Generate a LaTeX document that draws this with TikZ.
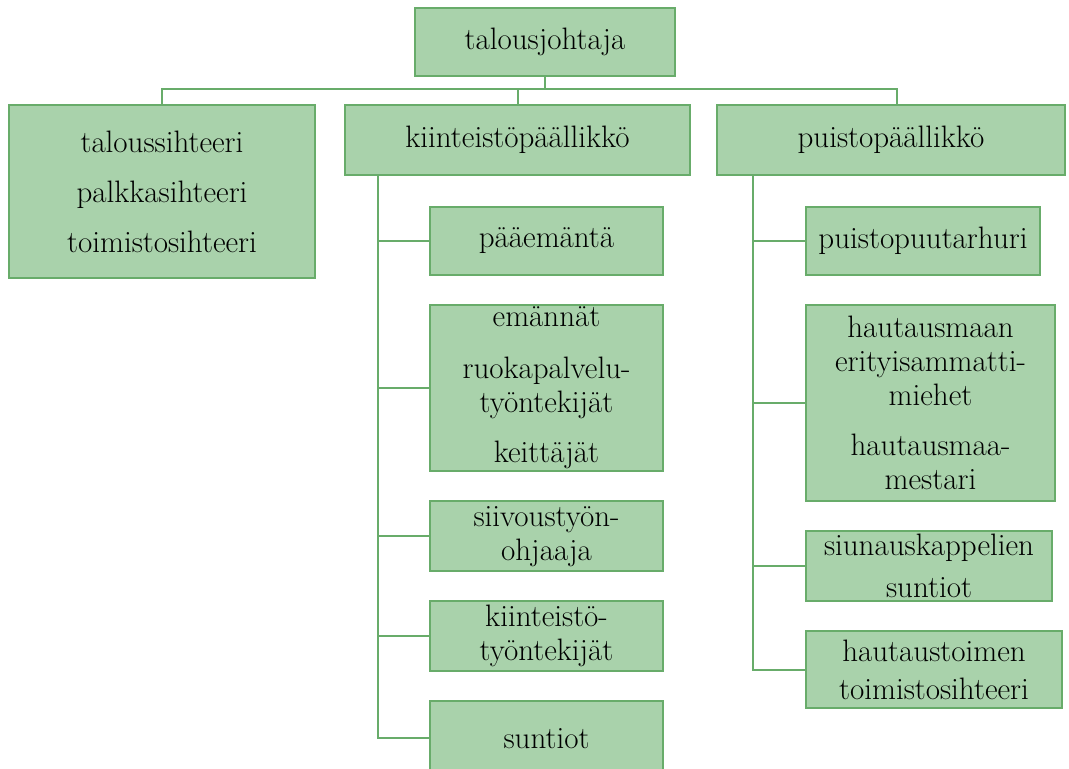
\documentclass[tikz,border=0pt]{standalone}
\usepackage{tikz}
\usetikzlibrary{positioning}
\definecolor{boxfill}{RGB}{169,210,171}
\definecolor{boxline}{RGB}{104,172,106}

\begin{document}
\begin{tikzpicture}[x=0.5pt,y=-0.5pt,node distance=15pt]
		\tikzstyle{post}=[draw=boxline,fill=boxfill,line width=1pt,align=center,inner sep=1pt,outer sep=0pt,font=\fontsize{15.5}{17}\selectfont]
		\tikzstyle{link}=[draw=boxline,line width=1pt]

		\useasboundingbox (0,0) rectangle (1069,769);
		\clip (0,0) rectangle (1069,769);

		% top and first row
		\node[post,anchor=north west,minimum width=130pt,minimum height=34pt] (0) at (415,8) {talousjohtaja};
		\node[post,anchor=north west,minimum width=153pt,minimum height=86.5pt] (1) at (9,105) {taloussihteeri\\[8pt]palkkasihteeri\\[8pt]toimistosihteeri};
		\node[post,anchor=north west,minimum width=172.5pt,minimum height=35pt] (2) at (345,105) {kiinteistöpäällikkö};
		\node[post,anchor=north west,minimum width=174pt,minimum height=35pt] (3) at (717,105) {puistopäällikkö};

		% kiinteistopaallikko
		\node[post,minimum width=116.5pt,minimum height=34pt] (4) [below right=16pt and 42.5pt of 2.south west] {pääemäntä};
		\node[post,minimum width=116.5pt,minimum height=83pt] (5) [below=of 4.south west,anchor=north west] {emännät\\[9pt]ruokapalvelu-\\työntekijät\\[8pt]keittäjät};
		\node[post,minimum width=116.5pt,minimum height=35pt] (6) [below=of 5.south west,anchor=north west] {siivoustyön-\\ohjaaja};
		\node[post,minimum width=116.5pt,minimum height=35pt] (7) [below=of 6.south west,anchor=north west] {kiinteistö-\\työntekijät};
		\node[post,minimum width=116.5pt,minimum height=37pt] (8) [below=of 7.south west,anchor=north west] {suntiot};

		% puistopaallikko
		\node[post,minimum width=117pt,minimum height=34pt] (9) [below right=16pt and 44.5pt of 3.south west] {puistopuutarhuri};
		\node[post,minimum width=124.5pt,minimum height=98pt] (10) [below=of 9.south west,anchor=north west] {hautausmaan\\erityisammatti-\\miehet\\[8pt]hautausmaa-\\mestari};
		\node[post,minimum width=123pt,minimum height=35pt] (11) [below=of 10.south west,anchor=north west] {siunauskappelien\\[4pt]suntiot};
		\node[post,minimum width=128pt,minimum height=38.5pt] (12) [below=of 11.south west,anchor=north west] {hautaustoimen\\[2pt]toimistosihteeri};

		\coordinate (bus) at (545,89);
		\draw[link] (0.south) -- (0.south |- bus);
		\draw[link] (1.north) |- (bus);
		\draw[link] (2.north) |- (bus);
		\draw[link] ([xshift=3pt]3.north) |- (bus);

		\coordinate (ks) at ([xshift=16.5pt]2.south west);
		\coordinate (ps) at ([xshift=18pt]3.south west);
		\foreach \n in {4,...,8}
			\draw[link] (ks) |- (\n.west);
		\foreach \n in {9,...,12}
			\draw[link] (ps) |- (\n.west);
	\end{tikzpicture}
\end{document}
